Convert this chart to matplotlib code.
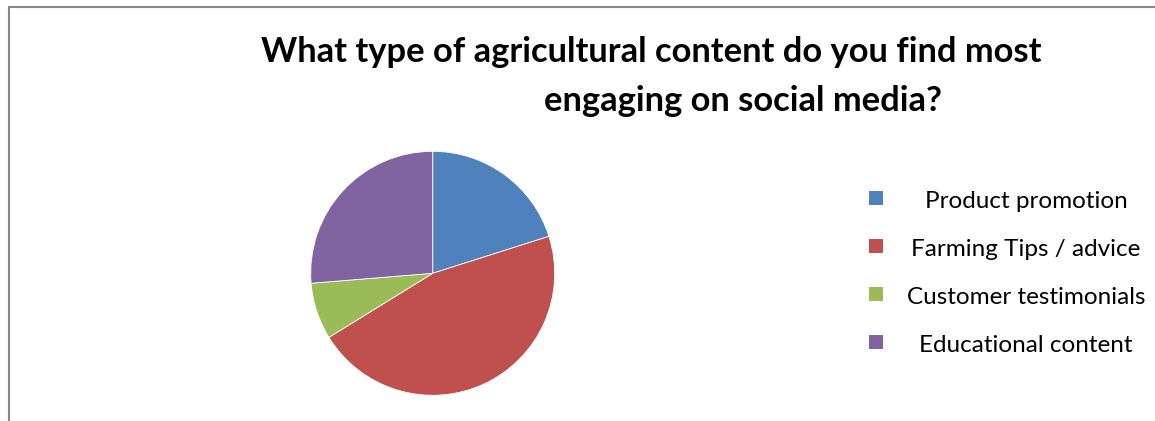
import matplotlib.pyplot as plt
from matplotlib.patches import Rectangle

# daten
labels = ['Product promotion', 'Farming Tips / advice', 'Customer testimonials', 'Educational content']
values = [20.1, 46.1, 7.5, 26.3]
colors = ['#4f81bd', '#c0504d', '#9bbb59', '#8064a2']

W, H = 1155, 421
fig = plt.figure(figsize=(W / 100, H / 100), dpi=100)
plt.rcParams['font.family'] = ['Lato', 'DejaVu Sans']

# rahmen
fig.patches.append(Rectangle((9 / W, -0.1), 1.2, 1.1 - 7 / H, transform=fig.transFigure,
                             fill=False, edgecolor='#868686', linewidth=1.5))

# titel
fig.text(651 / W, 1 - 52 / H, 'What type of agricultural content do you find most',
         ha='center', va='center', fontsize=24.8, fontweight='bold', color='black')
fig.text(743 / W, 1 - 101 / H, 'engaging on social media?',
         ha='center', va='center', fontsize=24.8, fontweight='bold', color='black')

# kuchen
cx, cy, r = 432.7, 273.3, 122
ax = fig.add_axes([(cx - r) / W, (H - cy - r) / H, 2 * r / W, 2 * r / H])
ax.pie(values, colors=colors, startangle=90, counterclock=False,
       wedgeprops=dict(edgecolor='white', linewidth=0.6))
ax.set_xlim(-1, 1)
ax.set_ylim(-1, 1)
ax.set_aspect('auto')
ax.axis('off')

# legende
ys = [198, 246, 294, 342]
for lab, col, y in zip(labels, colors, ys):
    fig.patches.append(Rectangle(((876 - 7) / W, 1 - (y + 7) / H), 14 / W, 14 / H,
                                 transform=fig.transFigure, facecolor=col, edgecolor='none'))
    fig.text(1026 / W, 1 - (y + 3) / H, lab, ha='center', va='center', fontsize=17.5, color='black')

plt.savefig('out.png', dpi=100)
